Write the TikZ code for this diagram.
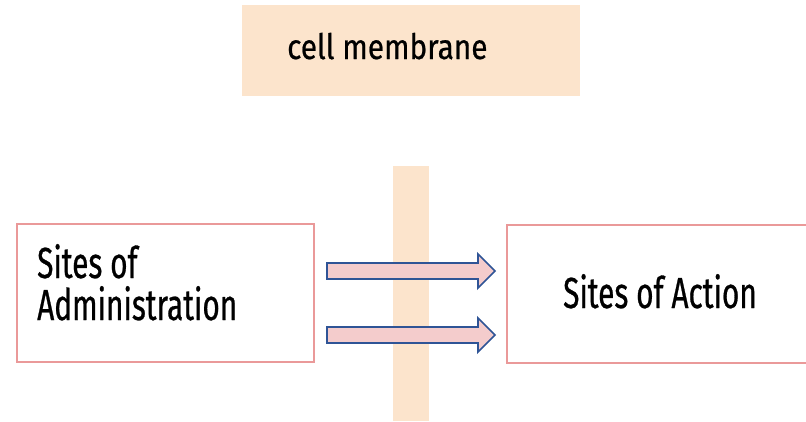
\documentclass[tikz,border=0pt]{standalone}
\usepackage{fontspec}
\setmainfont[FakeStretch=0.685, FakeBold=0.6]{Fira Sans}
\newfontfamily\memfont[FakeStretch=0.85, FakeBold=0.6]{Fira Sans}
\definecolor{peach}{HTML}{FCE4CC}
\definecolor{boxline}{HTML}{EA9999}
\definecolor{arrfill}{HTML}{F4CCCC}
\definecolor{arrline}{HTML}{2F5496}
\begin{document}
\begin{tikzpicture}[x=1pt,y=-1pt,
  sitebox/.style={draw=boxline, line width=1.5pt, fill=white, minimum height=138pt},
  sitetext/.style={inner sep=0pt, font=\fontsize{43.5}{42}\selectfont},
  blockarrow/.style={draw=arrline, fill=arrfill, line width=1.7pt, line join=miter}
]
\useasboundingbox (0,0) rectangle (806,421);
\node[fill=peach, minimum width=338pt, minimum height=91pt] (mem) at (411,50.5) {};
\node[inner sep=0pt, anchor=base west, font=\memfont\fontsize{35}{40}\selectfont] (memtext) at (287,59) {cell membrane};
\fill[peach] (393,166) rectangle (429,421);
\node[sitebox, minimum width=297pt] (adm) at (165.5,293) {};
\node[sitetext, anchor=base west] (adm1) at (37,278) {Sites of};
\node[sitetext, anchor=base west] (adm2) at (37,320) {Administration};
\node[sitebox, minimum width=306pt] (act) at (660,294) {};
\node[sitetext, anchor=base] (acttext) at (660,308) {Sites of Action};
\draw[blockarrow] (327,263) -- (478,263) -- (478,254) -- (495,271) -- (478,288) -- (478,279) -- (327,279) -- cycle;
\draw[blockarrow] (327,327) -- (478,327) -- (478,318) -- (495,335) -- (478,352) -- (478,343) -- (327,343) -- cycle;
\end{tikzpicture}
\end{document}
